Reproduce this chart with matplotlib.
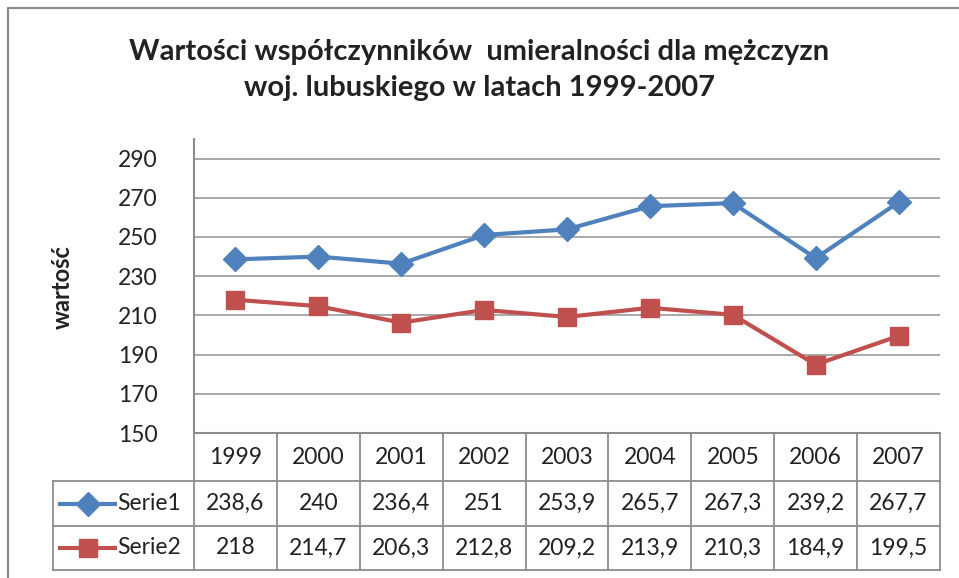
import matplotlib.pyplot as plt

years = ['1999', '2000', '2001', '2002', '2003', '2004', '2005', '2006', '2007']
serie1 = [238.6, 240, 236.4, 251, 253.9, 265.7, 267.3, 239.2, 267.7]
serie2 = [218, 214.7, 206.3, 212.8, 209.2, 213.9, 210.3, 184.9, 199.5]
series_names = ['Serie1', 'Serie2']
yticks = [150, 170, 190, 210, 230, 250, 270, 290]

title = 'Wartości współczynników  umieralności dla mężczyzn\nwoj. lubuskiego w latach 1999-2007'
ylabel = 'wartość'

blue = '#4F81BD'
red = '#C0504D'
gray = '#8c8c8c'
W, H = 959, 578

plt.rcParams['font.family'] = ['Lato', 'DejaVu Sans']

fig = plt.figure(figsize=(W / 100, H / 100), dpi=100)

# overlay in pixel coords (y downwards) for frame + data table
over = fig.add_axes([0, 0, 1, 1])
over.set_xlim(0, W)
over.set_ylim(H, 0)
over.axis('off')

ax = fig.add_axes([194 / W, (H - 433) / H, (940 - 194) / W, (433 - 139) / H])
x = list(range(len(years)))
ax.plot(x, serie1, color=blue, lw=3, marker='D', ms=12, zorder=3)
ax.plot(x, serie2, color=red, lw=3, marker='s', ms=13, zorder=3)
ax.set_xlim(-0.5, len(years) - 0.5)
ax.set_ylim(150, 300)
ax.set_yticks(yticks)
ax.set_xticks([])
ax.tick_params(axis='y', length=0, labelsize=16.5, pad=26, colors='#222222')
ax.grid(axis='y', color='#999999', lw=1.2)
ax.set_axisbelow(True)
for s in ['top', 'right']:
    ax.spines[s].set_visible(False)
for s in ['left', 'bottom']:
    ax.spines[s].set_color(gray)
    ax.spines[s].set_linewidth(1.5)

# outer chart frame
over.plot([8, 8, W + 5], [H + 5, 8, 8], color=gray, lw=1.6, clip_on=False)

fig.text(0.5, 1 - 70 / H, title, ha='center', va='center', fontsize=21,
         fontweight='bold', linespacing=1.5, color='#222222')
fig.text(62 / W, 1 - 287 / H, ylabel, rotation=90, ha='center', va='center',
         fontsize=17, fontweight='bold', color='#222222')

# data table below the axis
def col_x(i):
    px = ax.transData.transform((i - 0.5, 150))
    return over.transData.inverted().transform(px)[0]

edges = [col_x(i) for i in range(len(years) + 1)]
y_head, y_r1, y_r2, y_end = 433, 481, 526, 570
leg_left = 53
lkw = dict(color=gray, lw=1.3)

for e in edges:
    over.plot([e, e], [y_head, y_end], **lkw)
over.plot([leg_left, leg_left], [y_r1, y_end], **lkw)
over.plot([leg_left, edges[-1]], [y_r1, y_r1], **lkw)
over.plot([leg_left, edges[-1]], [y_r2, y_r2], **lkw)
over.plot([leg_left, edges[-1]], [y_end, y_end], **lkw)

def fmt(v):
    return ('%g' % v).replace('.', ',')

tkw = dict(ha='center', va='center', fontsize=16.5, color='#222222')
for i, yr in enumerate(years):
    cx = (edges[i] + edges[i + 1]) / 2
    over.text(cx, (y_head + y_r1) / 2, yr, **tkw)
    over.text(cx, (y_r1 + y_r2) / 2, fmt(serie1[i]), **tkw)
    over.text(cx, (y_r2 + y_end) / 2, fmt(serie2[i]), **tkw)

# legend keys inside the table
for name, col, mk, ms, (t, b) in zip(series_names, [blue, red], ['D', 's'], [12, 13],
                                     [(y_r1, y_r2), (y_r2, y_end)]):
    cy = (t + b) / 2
    over.plot([60, 115], [cy, cy], color=col, lw=3)
    over.plot([87.5], [cy], marker=mk, ms=ms, color=col)
    over.text(117, cy, name, ha='left', va='center', fontsize=16.5, color='#222222')

fig.savefig('out.png', dpi=100)
